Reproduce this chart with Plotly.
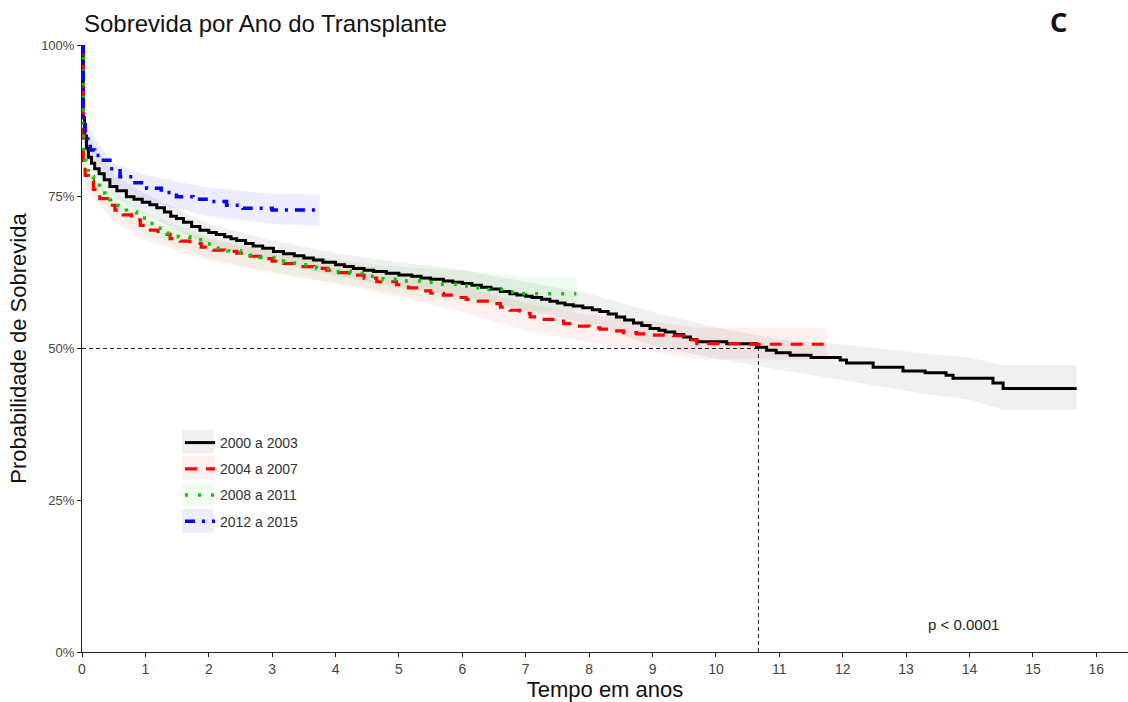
import plotly.graph_objects as go

# ---------------- data ----------------
series_names = ["2000 a 2003", "2004 a 2007", "2008 a 2011", "2012 a 2015"]

# Kaplan-Meier step curves (time in years, survival in %)
t_2000 = [0, 0.02, 0.04, 0.07, 0.1, 0.15, 0.2, 0.27, 0.35, 0.44, 0.55, 0.7, 0.82, 0.95, 1.07,
          1.18, 1.3, 1.4, 1.49, 1.6, 1.73, 1.86, 2.0, 2.12, 2.25, 2.35, 2.44, 2.58, 2.7, 2.85,
          3.02, 3.18, 3.35, 3.5, 3.65, 3.8, 4.0, 4.14, 4.28, 4.45, 4.6, 4.8, 5.0, 5.2, 5.35,
          5.5, 5.7, 5.85, 6.0, 6.15, 6.3, 6.45, 6.6, 6.75, 6.86, 7.0, 7.1, 7.25, 7.38, 7.5,
          7.62, 7.75, 7.9, 8.05, 8.17, 8.3, 8.43, 8.56, 8.7, 8.83, 8.96, 9.1, 9.2, 9.35, 9.49,
          9.6, 9.7, 10.17, 10.64, 10.8, 10.95, 11.17, 11.5, 11.96, 12.06, 12.48, 12.95, 13.3,
          13.63, 13.74, 14.37, 14.53, 15.69]
s_2000 = [100, 88, 85, 83, 81.5, 80.5, 79.6, 78.8, 77.8, 76.7, 76.0, 75.0, 74.6, 74.1, 73.7,
          73.2, 72.5, 71.8, 71.4, 70.8, 70.1, 69.5, 69.1, 68.8, 68.4, 68.1, 67.8, 67.3, 66.9, 66.5,
          66.0, 65.6, 65.3, 64.9, 64.6, 64.2, 63.8, 63.5, 63.2, 62.9, 62.7, 62.4, 62.1, 61.9, 61.6,
          61.4, 61.1, 60.9, 60.7, 60.4, 60.1, 59.8, 59.4, 59.0, 58.8, 58.6, 58.4, 58.1, 57.8, 57.5,
          57.2, 57.0, 56.7, 56.4, 56.1, 55.7, 55.2, 54.7, 54.2, 53.8, 53.3, 53.0, 52.7, 52.3, 51.9,
          51.5, 51.1, 50.8, 50.2, 49.7, 49.3, 48.9, 48.5, 48.1, 47.6, 46.9, 46.3, 46.0,
          45.6, 45.1, 44.3, 43.4, 43.4]

t_2004 = [0, 0.02, 0.05, 0.1, 0.18, 0.28, 0.4, 0.52, 0.65, 0.78, 0.92, 1.05, 1.2, 1.39, 1.55,
          1.7, 1.88, 2.07, 2.25, 2.44, 2.62, 2.81, 3.0, 3.18, 3.44, 3.65, 3.86, 4.05, 4.28, 4.45,
          4.65, 4.96, 5.15, 5.33, 5.5, 5.7, 5.88, 6.06, 6.25, 6.44, 6.6, 6.75, 6.9, 7.07, 7.25,
          7.43, 7.6, 7.8, 8.0, 8.17, 8.35, 8.54, 8.75, 8.91, 9.33, 9.5, 9.7, 10.54, 11.75]
s_2004 = [100, 81, 78.5, 77.6, 76.2, 74.7, 73.6, 72.8, 72.0, 71.2, 70.3, 69.5, 68.8, 68.1, 67.7,
          67.3, 66.7, 66.2, 66.0, 65.7, 65.2, 64.8, 64.4, 64.0, 63.5, 63.2, 62.9, 62.5, 62.1, 61.6,
          61.0, 60.5, 60.0, 59.5, 59.1, 58.8, 58.4, 58.1, 57.8, 57.4, 56.8, 56.3, 55.8, 55.2, 54.8,
          54.5, 54.1, 53.7, 53.4, 53.2, 52.9, 52.6, 52.4, 52.2, 52.1, 51.4, 50.8, 50.7, 50.7]

t_2008 = [0, 0.02, 0.06, 0.1, 0.18, 0.28, 0.36, 0.44, 0.57, 0.7, 0.86, 1.02, 1.18, 1.34, 1.52,
          1.7, 1.9, 2.12, 2.3, 2.5, 2.65, 2.81, 3.1, 3.27, 3.44, 3.7, 3.96, 4.23, 4.5, 4.75,
          5.05, 5.38, 5.65, 5.96, 6.18, 6.38, 6.65, 6.91, 7.8]
s_2008 = [100, 81, 79.3, 78.3, 76.9, 75.6, 75.0, 74.5, 73.5, 72.5, 71.5, 70.6, 69.8, 69.0, 68.4,
          67.9, 67.2, 66.5, 66.1, 65.8, 65.4, 65.0, 64.4, 64.1, 63.8, 63.2, 62.7, 62.4, 61.9, 61.4,
          61.1, 60.9, 60.6, 60.3, 60.0, 59.7, 59.3, 59.0, 59.0]

t_2012 = [0, 0.02, 0.05, 0.09, 0.13, 0.2, 0.28, 0.44, 0.6, 0.8, 1.02, 1.25, 1.49, 1.75, 2.02,
          2.28, 2.54, 3.0, 3.75]
s_2012 = [100, 88, 84.9, 83.6, 82.7, 81.8, 81.0, 79.6, 78.3, 77.3, 76.4, 75.7, 75.0, 74.6, 74.2,
          73.6, 73.1, 72.8, 72.8]

# confidence bands (time, lower %, upper %)
ct_2000 = [0, 0.02, 0.05, 0.5, 1, 2, 3, 4, 5, 6, 7, 8, 9, 10, 11, 12, 13, 14, 14.53, 15.69]
lo_2000 = [100, 86, 82, 75, 72, 67, 64.3, 62, 60, 58.6, 56.3, 54, 50.5, 48.3, 46.5, 44.8, 43, 41.5, 39.9, 39.9]
hi_2000 = [100, 90, 86, 78.5, 75.5, 70.5, 67.8, 65.7, 64.2, 63, 61, 59, 56, 53.5, 51.5, 50.7, 49.5, 48.5, 47.3, 47.3]

ct_2004 = [0, 0.02, 0.07, 0.5, 1, 2, 3, 4, 5, 6, 7, 8, 9, 9.7, 11.75]
lo_2004 = [100, 79, 76, 71, 67.8, 64.5, 62.4, 60.7, 58.5, 56, 53, 51, 49.5, 48.2, 48.2]
hi_2004 = [100, 83, 79.5, 74.5, 71.2, 68, 66, 64.5, 62.5, 60.2, 57.5, 55.5, 54.5, 53.4, 53.4]

ct_2008 = [0, 0.02, 0.1, 0.5, 1, 2, 3, 4, 5, 6, 7, 7.8]
lo_2008 = [100, 79, 76.5, 72.5, 68.8, 64.9, 62.6, 60.8, 59, 57.7, 56.2, 56.2]
hi_2008 = [100, 83, 80, 76, 72.4, 68.3, 66.2, 64.6, 63.5, 62.8, 61.8, 61.8]

ct_2012 = [0, 0.02, 0.05, 0.5, 1, 2, 3, 3.75]
lo_2012 = [100, 86, 82.7, 76.3, 74.2, 71.8, 70.5, 70.2]
hi_2012 = [100, 90, 87, 80.5, 78.6, 76.5, 75.5, 75.4]

median_time = 10.67
median_surv = 50
x_ticks = list(range(0, 17))
y_ticks = [0, 25, 50, 75, 100]
y_tick_labels = ["0%", "25%", "50%", "75%", "100%"]
p_text = "p < 0.0001"

# ---------------- styling ----------------
line_colors = ["#000000", "#ff0000", "#00cc00", "#0000ff"]
band_colors = ["rgba(120,120,120,0.11)", "rgba(255,0,0,0.06)",
               "rgba(0,200,0,0.06)", "rgba(0,0,255,0.07)"]
dashes = ["solid", "12px,9px", "3px,10px", "10px,7px,3px,7px"]
widths = [3, 3.2, 3.5, 3.5]

curves = [(t_2000, s_2000), (t_2004, s_2004), (t_2008, s_2008), (t_2012, s_2012)]
bands = [(ct_2000, lo_2000, hi_2000), (ct_2004, lo_2004, hi_2004),
         (ct_2008, lo_2008, hi_2008), (ct_2012, lo_2012, hi_2012)]

fig = go.Figure()

for i, (ct, lo, hi) in enumerate(bands):
    fig.add_trace(go.Scatter(x=ct, y=lo, mode="lines", line=dict(width=0, shape="linear"),
                             showlegend=False, hoverinfo="skip"))
    fig.add_trace(go.Scatter(x=ct, y=hi, mode="lines", line=dict(width=0, shape="linear"),
                             fill="tonexty", fillcolor=band_colors[i],
                             showlegend=False, hoverinfo="skip"))

for i, (t, s) in enumerate(curves):
    fig.add_trace(go.Scatter(x=t, y=s, mode="lines", name=series_names[i],
                             legendgroup=series_names[i],
                             line=dict(color=line_colors[i], width=widths[i],
                                       dash=dashes[i], shape="hv")))

# median reference lines
fig.add_shape(type="line", x0=0, x1=median_time, y0=median_surv, y1=median_surv,
              line=dict(color="#222", width=1, dash="4px,3px"))
fig.add_shape(type="line", x0=median_time, x1=median_time, y0=0, y1=median_surv,
              line=dict(color="#222", width=1, dash="4px,3px"))

# legend key backgrounds (ggplot style)
key_rows = [(430, 453), (456, 479), (483, 506), (509, 533)]
for i, (ya, yb) in enumerate(key_rows):
    fig.add_shape(type="rect", xref="paper", yref="paper",
                  x0=(182 - 82) / 1046, x1=(214 - 82) / 1046,
                  y0=(652 - yb) / 607, y1=(652 - ya) / 607,
                  line=dict(width=0), fillcolor=band_colors[i], layer="above")

fig.add_annotation(x=13.9, y=4.6, text=p_text, showarrow=False,
                   font=dict(family="Liberation Sans, Arial", size=15, color="#222"))

fig.add_annotation(xref="paper", yref="paper", x=(1058 - 82) / 1046, y=1 + (45 - 22) / 607,
                   xanchor="center", yanchor="middle",
                   text="<b>C</b>", showarrow=False,
                   font=dict(family="Noto Sans, Open Sans", size=27, color="#111"))

fig.update_layout(
    width=1128, height=702,
    margin=dict(l=82, r=0, t=45, b=50),
    paper_bgcolor="white", plot_bgcolor="white",
    title=dict(text="Sobrevida por Ano do Transplante", x=84 / 1128, xanchor="left",
               y=1 - 24 / 702, yanchor="middle",
               font=dict(family="Liberation Sans, Arial", size=24, color="#111")),
    legend=dict(x=(180 - 82) / 1046, y=(652 - 427) / 607, xanchor="left", yanchor="top",
                bgcolor="rgba(0,0,0,0)", tracegroupgap=5,
                font=dict(family="Liberation Sans, Arial", size=14, color="#333")),
    showlegend=True,
)

fig.update_xaxes(range=[0, 16.5], tickvals=x_ticks, showgrid=False, zeroline=False,
                 showline=True, linecolor="#222", linewidth=1, ticks="outside", ticklen=4,
                 tickcolor="#222",
                 tickfont=dict(family="Liberation Sans Narrow, Liberation Sans, Arial", size=14, color="#444"),
                 title=dict(text="Tempo em anos", standoff=6,
                            font=dict(family="Liberation Sans, Arial", size=22, color="#111")))
fig.update_yaxes(range=[0, 100], tickvals=y_ticks, ticktext=y_tick_labels, showgrid=False,
                 zeroline=False, showline=True, linecolor="#222", linewidth=1, ticks="outside",
                 ticklen=4, tickcolor="#222",
                 tickfont=dict(family="Liberation Sans, Arial", size=13, color="#444"),
                 title=dict(text="Probabilidade de Sobrevida", standoff=8,
                            font=dict(family="Liberation Sans, Arial", size=22, color="#111")))

fig.write_html("out.html")
